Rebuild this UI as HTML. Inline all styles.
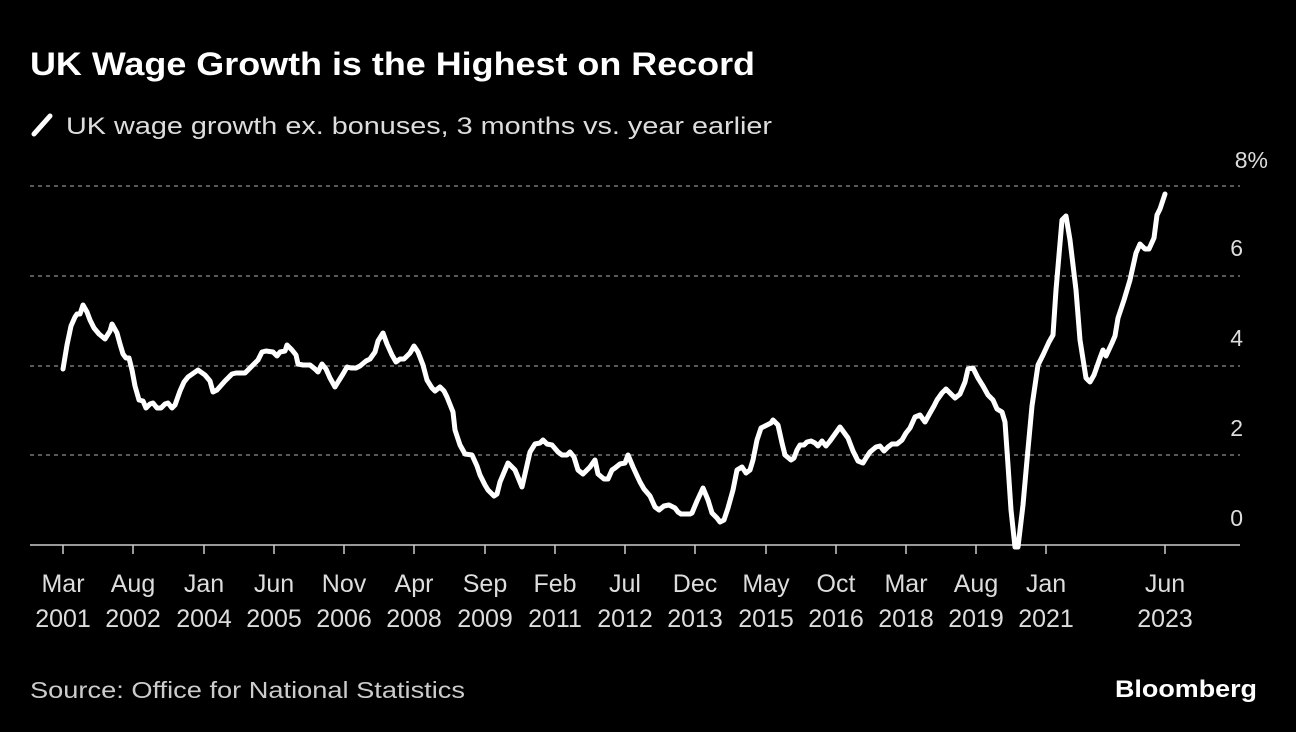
<!DOCTYPE html>
<html><head><meta charset="utf-8"><style>
html,body{margin:0;padding:0;background:#000;}
body{width:1296px;height:732px;overflow:hidden;position:relative;font-family:"Liberation Sans",sans-serif;color:#fff;}
</style></head><body>
<svg width="1296" height="732" xmlns="http://www.w3.org/2000/svg" style="position:absolute;left:0;top:0">
<rect width="1296" height="732" fill="#000"/>
<text x="30" y="75" font-size="32" font-weight="bold" fill="#fff" font-family="Liberation Sans, sans-serif" textLength="725" lengthAdjust="spacingAndGlyphs">UK Wage Growth is the Highest on Record</text>
<line x1="34" y1="134" x2="50" y2="116" stroke="#fff" stroke-width="5" stroke-linecap="round"/>
<text x="66" y="134" font-size="24" fill="#ddd" font-family="Liberation Sans, sans-serif" textLength="706" lengthAdjust="spacingAndGlyphs">UK wage growth ex. bonuses, 3 months vs. year earlier</text>
<g stroke="#777" stroke-width="1.5" stroke-dasharray="4,4">
<line x1="30" y1="186" x2="1240" y2="186"/>
<line x1="30" y1="276" x2="1240" y2="276"/>
<line x1="30" y1="366" x2="1240" y2="366"/>
<line x1="30" y1="455" x2="1240" y2="455"/>
</g>
<g font-size="23" fill="#ddd" font-family="Liberation Sans, sans-serif" text-anchor="end">
<text x="1268" y="168">8%</text>
<text x="1243" y="256">6</text>
<text x="1243" y="346">4</text>
<text x="1243" y="436">2</text>
<text x="1243" y="526">0</text>
</g>
<line x1="30" y1="545" x2="1240" y2="545" stroke="#ccc" stroke-width="1.5"/>
<g stroke="#ccc" stroke-width="1.5">
<line x1="63" y1="545" x2="63" y2="554"/><line x1="133" y1="545" x2="133" y2="554"/><line x1="204" y1="545" x2="204" y2="554"/><line x1="274" y1="545" x2="274" y2="554"/><line x1="344" y1="545" x2="344" y2="554"/><line x1="414" y1="545" x2="414" y2="554"/><line x1="485" y1="545" x2="485" y2="554"/><line x1="555" y1="545" x2="555" y2="554"/><line x1="625" y1="545" x2="625" y2="554"/><line x1="695" y1="545" x2="695" y2="554"/><line x1="766" y1="545" x2="766" y2="554"/><line x1="836" y1="545" x2="836" y2="554"/><line x1="906" y1="545" x2="906" y2="554"/><line x1="976" y1="545" x2="976" y2="554"/><line x1="1046" y1="545" x2="1046" y2="554"/><line x1="1165" y1="545" x2="1165" y2="554"/>
</g>
<g font-size="25" fill="#ddd" font-family="Liberation Sans, sans-serif" text-anchor="middle">
<text x="63" y="592">Mar</text><text x="63" y="627">2001</text>
<text x="133" y="592">Aug</text><text x="133" y="627">2002</text>
<text x="204" y="592">Jan</text><text x="204" y="627">2004</text>
<text x="274" y="592">Jun</text><text x="274" y="627">2005</text>
<text x="344" y="592">Nov</text><text x="344" y="627">2006</text>
<text x="414" y="592">Apr</text><text x="414" y="627">2008</text>
<text x="485" y="592">Sep</text><text x="485" y="627">2009</text>
<text x="555" y="592">Feb</text><text x="555" y="627">2011</text>
<text x="625" y="592">Jul</text><text x="625" y="627">2012</text>
<text x="695" y="592">Dec</text><text x="695" y="627">2013</text>
<text x="766" y="592">May</text><text x="766" y="627">2015</text>
<text x="836" y="592">Oct</text><text x="836" y="627">2016</text>
<text x="906" y="592">Mar</text><text x="906" y="627">2018</text>
<text x="976" y="592">Aug</text><text x="976" y="627">2019</text>
<text x="1046" y="592">Jan</text><text x="1046" y="627">2021</text>
<text x="1165" y="592">Jun</text><text x="1165" y="627">2023</text>
</g>
<polyline fill="none" stroke="#fff" stroke-width="5" stroke-linejoin="round" stroke-linecap="round" points="63,369 67,345 71,326 75,317 77,314 80,314 83,305 87,312 90,320 94,328 99,334 105,339 110,331 112,324 117,333 120,344 123,354 126,358 129,358 132,370 135,386 139,400 143,401 146,408 150,404 153,403 157,408 161,408 165,404 168,403 172,408 175,405 180,391 184,382 188,377 198,370 205,375 210,381 213,392 217,390 225,381 232,374 236,373 245,373 252,366 258,360 262,352 266,351 273,352 277,356 280,352 285,351 287,345 292,350 296,355 298,364 303,365 310,365 315,369 318,372 322,364 326,369 330,378 335,387 338,382 343,374 347,367 351,368 356,368 360,366 366,361 370,359 375,352 378,341 383,333 387,344 392,355 396,362 400,359 404,359 410,353 414,346 418,352 423,365 427,380 432,388 435,391 440,387 444,391 447,397 453,412 455,430 460,445 465,454 472,455 477,466 480,475 485,485 488,490 494,496 497,494 500,482 508,463 515,470 522,487 525,474 530,452 535,444 540,443 543,440 547,444 552,445 558,452 562,455 567,455 570,452 574,457 578,470 583,474 590,467 595,460 598,474 604,479 608,479 612,470 615,468 620,464 625,463 628,455 633,467 640,482 644,489 650,496 655,507 659,510 664,506 669,505 675,508 678,512 681,514 690,514 692,513 697,501 703,488 708,500 712,513 717,518 720,522 724,520 728,508 733,490 737,470 742,467 746,473 750,470 753,460 757,440 761,428 767,425 771,423 773,420 778,425 782,443 785,455 791,460 794,458 797,450 800,445 804,445 807,442 811,441 815,443 818,446 822,441 826,446 830,441 840,427 848,438 853,451 858,461 863,463 866,458 870,452 876,447 880,446 884,451 888,447 892,444 897,444 902,440 906,433 910,428 915,417 920,415 925,422 930,413 934,406 937,400 942,393 946,389 950,393 955,398 960,394 965,382 968,369 973,368 978,378 983,386 988,395 993,400 997,409 1002,412 1005,422 1008,465 1011,510 1015,547 1018,547 1023,505 1027,460 1032,406 1038,365 1043,355 1049,342 1053,335 1056,290 1062,220 1066,216 1070,240 1076,290 1080,340 1086,378 1090,382 1094,375 1100,358 1103,350 1106,356 1112,343 1115,336 1118,318 1124,300 1130,280 1136,253 1140,244 1145,249 1149,249 1154,238 1157,215 1160,209 1165,194"/>
<text x="30" y="698" font-size="23" fill="#ccc" font-family="Liberation Sans, sans-serif" textLength="435" lengthAdjust="spacingAndGlyphs">Source: Office for National Statistics</text>
<text x="1115" y="697" font-size="24" font-weight="bold" fill="#fff" font-family="Liberation Sans, sans-serif" textLength="142" lengthAdjust="spacingAndGlyphs">Bloomberg</text>
</svg>
</body></html>
